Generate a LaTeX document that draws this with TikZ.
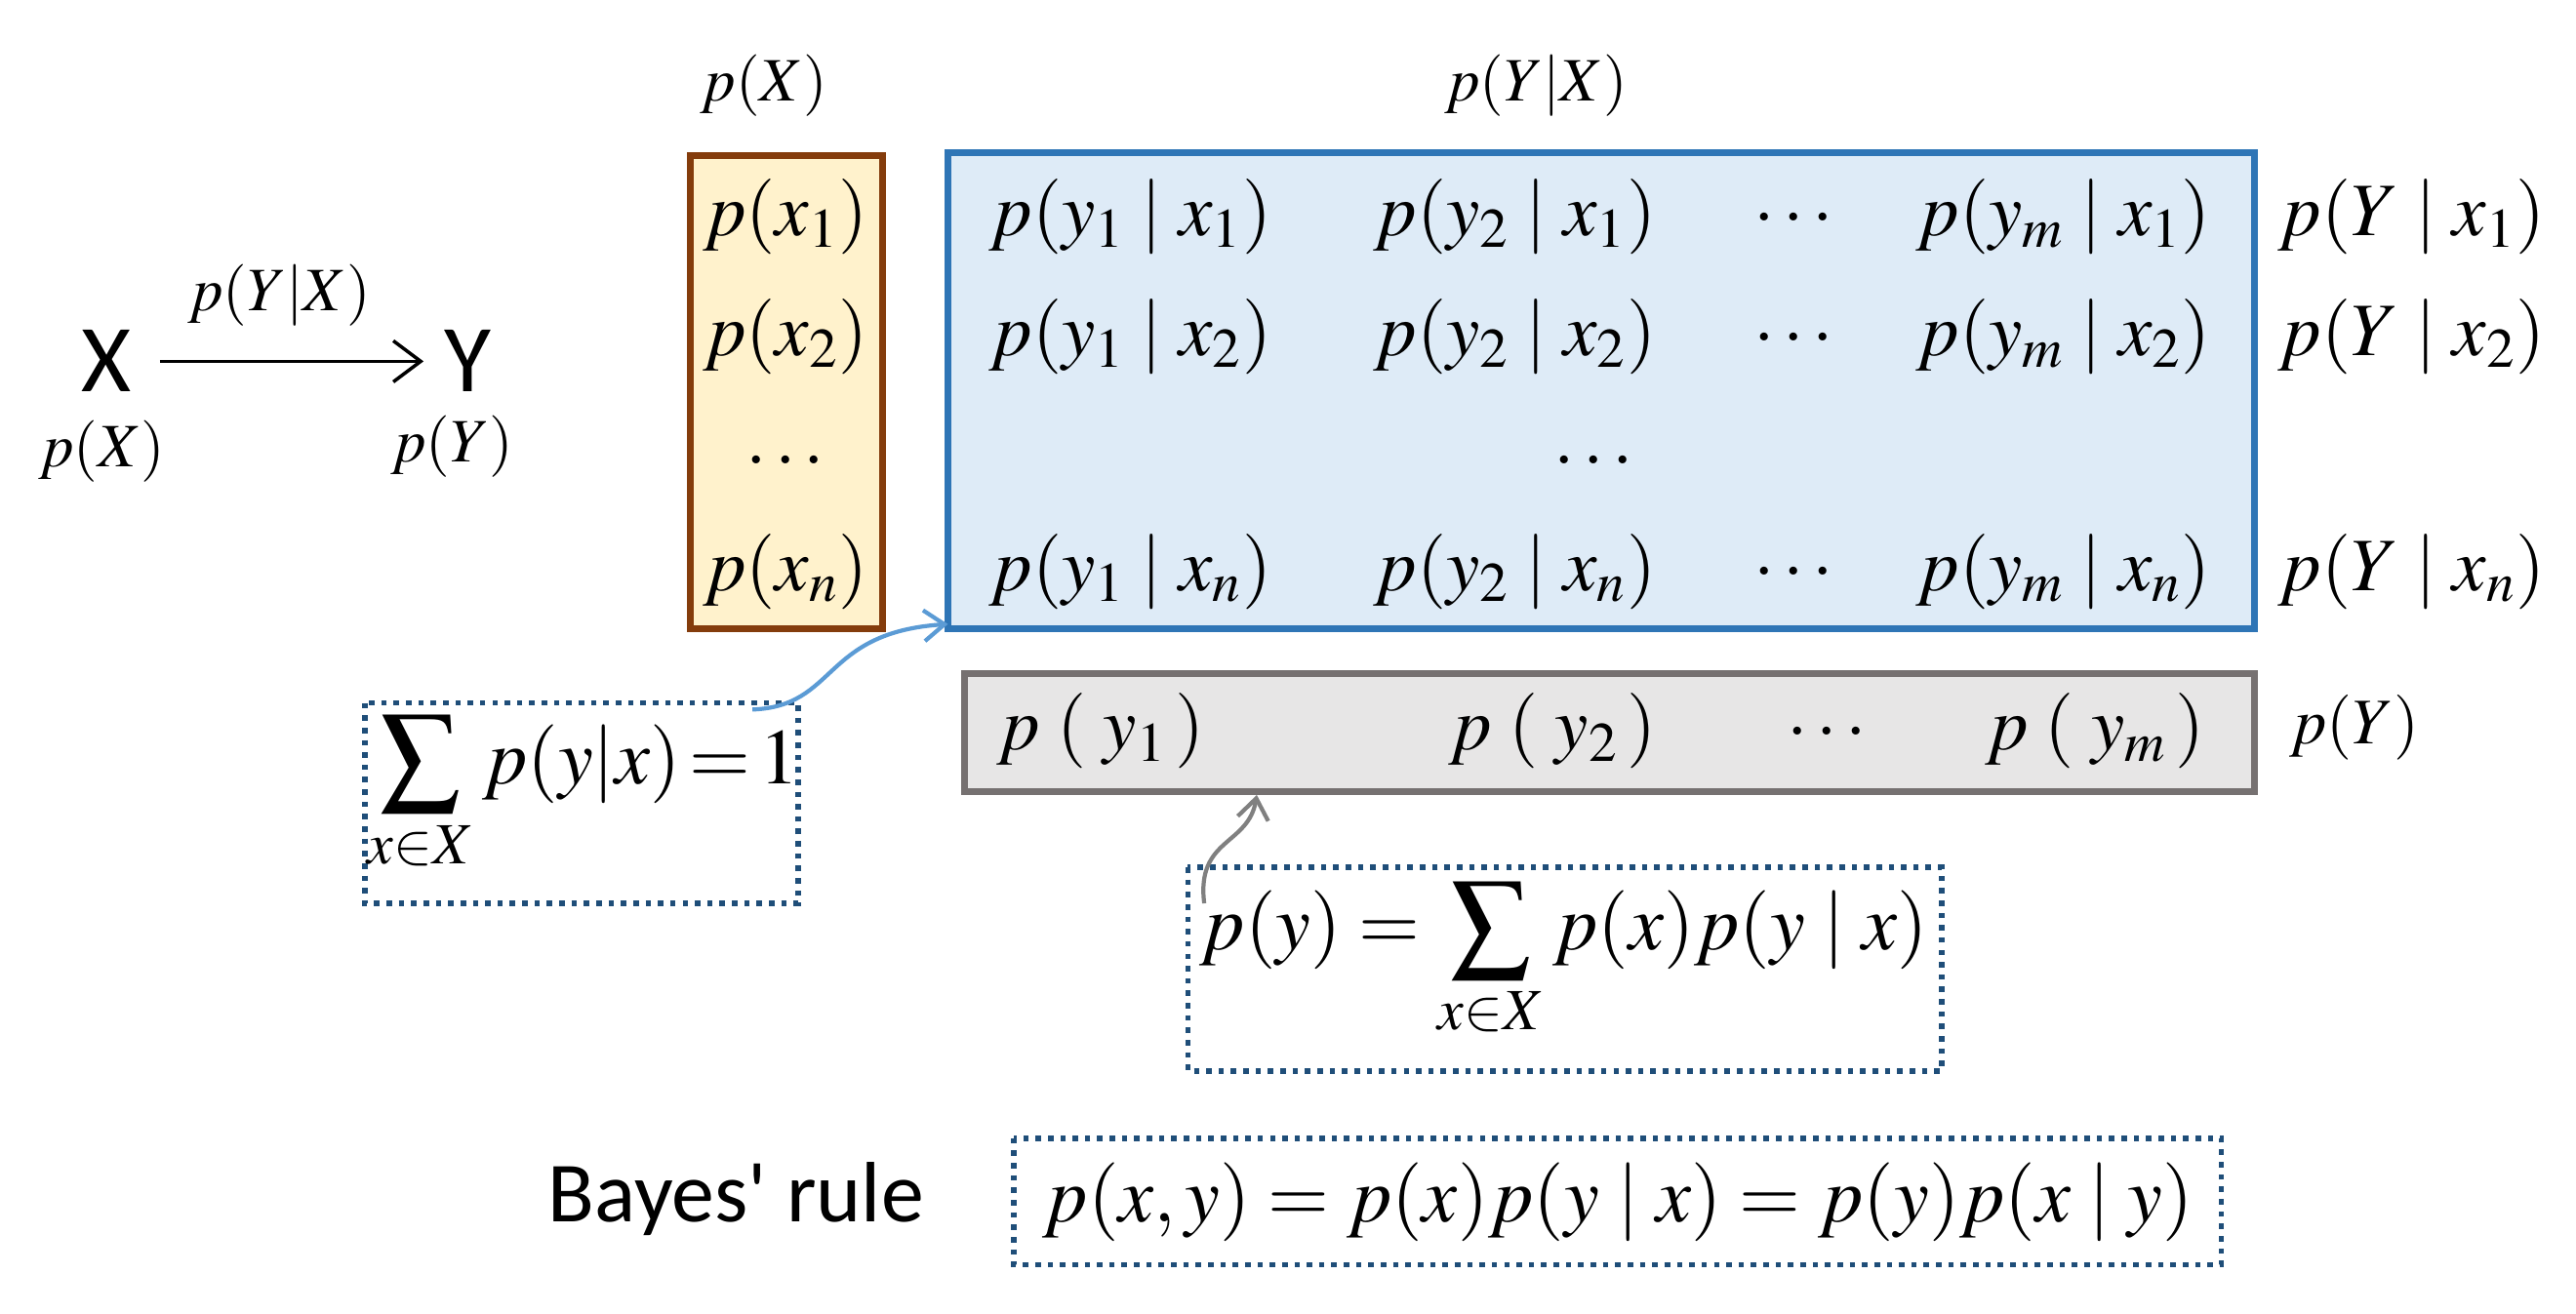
\documentclass[tikz,border=0pt]{standalone}
\usepackage{mathptmx}
\usepackage{fontspec}
\setmainfont{Carlito}
\usetikzlibrary{arrows.meta}
\definecolor{obord}{HTML}{843C0C}
\definecolor{ofill}{HTML}{FFF2CC}
\definecolor{bbord}{HTML}{2E75B6}
\definecolor{bfill}{HTML}{DEEBF7}
\definecolor{gbord}{HTML}{767171}
\definecolor{gfill}{HTML}{E7E6E6}
\definecolor{dbord}{HTML}{1F4E79}
\definecolor{larrow}{HTML}{5B9BD5}
\begin{document}
\begin{tikzpicture}[x=0.01684cm,y=-0.01684cm,
  m/.style={inner sep=0pt,font=\fontsize{22}{26}\selectfont},
  s/.style={inner sep=0pt,font=\fontsize{18}{22}\selectfont},
  f/.style={inner sep=0pt,font=\fontsize{23}{27}\selectfont},
  dbox/.style={draw=dbord,line width=1.6pt,dotted}]
\useasboundingbox (0,0) rectangle (1568,800);
% left graph
\node[inner sep=0pt,font=\fontsize{28}{32}\selectfont] (X) at (65,220) {X};
\node[inner sep=0pt,font=\fontsize{28}{32}\selectfont] (Y) at (285,220) {Y};
\draw[-{Straight Barb[length=8pt,width=12pt]},line width=1pt] ([xshift=8pt]X.east) -- ([xshift=-6pt]Y.west);
\node[s] (lab) at (170,180) {$p(Y|X)$};
\node[s] (pX) at (62,275) {$p(X)$};
\node[s] (pY) at (275,272) {$p(Y)$};
% headers
\node[s] (hX) at (465,52) {$p(X)$};
\node[s] (hYX) at (935,52) {$p(Y|X)$};
% orange box
\draw[draw=obord,fill=ofill,line width=2pt] (420,95) rectangle (537,383);
\node[m] (x1) at (478,132) {$p(x_1)$};
\node[m] (x2) at (478,205) {$p(x_2)$};
\node[m] (xd) at (478,280) {$\ldots$};
\node[m] (xn) at (478,348) {$p(x_n)$};
% blue box
\draw[draw=bbord,fill=bfill,line width=2pt] (577,93) rectangle (1372,383);
\coordinate (bluecorner) at (577,380);
\foreach \r/\yy in {1/132,2/205,n/348}{
  \node[m] (c1\r) at (688,\yy) {$p(y_1\mid x_\r)$};
  \node[m] (c2\r) at (922,\yy) {$p(y_2\mid x_\r)$};
  \node[m] (cd\r) at (1092,\yy) {$\ldots$};
  \node[m] (cm\r) at (1256,\yy) {$p(y_m\mid x_\r)$};
  \node[m] (r\r) at (1468,\yy) {$p(Y\mid x_\r)$};
}
\node[m] (md) at (970,280) {$\ldots$};
% gray box
\draw[draw=gbord,fill=gfill,line width=2pt] (587,410) rectangle (1372,482);
\node[m] (py1) at (670,445) {$p\;(\;y_1\,)$};
\node[m] (py2) at (945,445) {$p\;(\;y_2\,)$};
\node[m] (pyd) at (1112,445) {$\ldots$};
\node[m] (pym) at (1275,445) {$p\;(\;y_m\,)$};
\node[s,font=\fontsize{19}{23}\selectfont] (pYr) at (1433,443) {$p(Y)$};
\coordinate (graytop) at (765,484);
% dotted boxes
\draw[dbox] (222,428) rectangle (486,550);
\node[f] (sum1) at (355,484) {$\displaystyle\sum_{x\in X} p(y|x)\!=\!1$};
\coordinate (s1) at (458,432);
\draw[dbox] (723,528) rectangle (1182,652);
\node[f] (sum2) at (952,585) {$\displaystyle p(y)=\sum_{x\in X} p(x)p(y\mid x)$};
\coordinate (s2) at (733,550);
\node[inner sep=0pt,font=\fontsize{25}{30}\selectfont] (bayes) at (448,730) {Bayes\textquotesingle{} rule};
\draw[dbox] (617,693) rectangle (1352,770);
\node[f] (bf) at (985,732) {$p(x,y)=p(x)p(y\mid x)=p(y)p(x\mid y)$};
% curved arrows
\draw[larrow,line width=1.2pt,-{Straight Barb[length=6pt,width=9pt]}] (s1) .. controls (510,430) and (500,385) .. (bluecorner);
\draw[gray,line width=1.2pt,-{Straight Barb[length=6pt,width=9pt]}] (s2) .. controls (728,510) and (760,515) .. (graytop);
\end{tikzpicture}
\end{document}
